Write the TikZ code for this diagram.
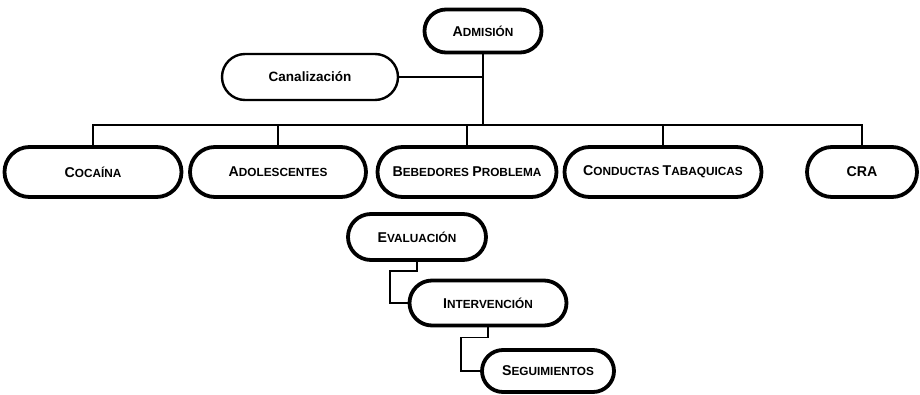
\documentclass[tikz,border=0pt]{standalone}
\usepackage{fontspec}
\setmainfont{Liberation Sans}
\usetikzlibrary{calc,shapes.misc}

% hand-made small capitals: large initial, smaller remaining capitals
\newcommand\capbig[1]{{\fontsize{14.2}{15}\selectfont #1}}
\newcommand\smcap[2]{\capbig{#1}{\fontsize{11.8}{13}\selectfont #2}}

\tikzset{
  pill/.style={draw, line width=3.8pt, rounded rectangle, rounded rectangle arc length=180,
    fill=white, inner sep=0pt, align=center, font=\bfseries\fontsize{11.8}{13}\selectfont},
  pillthin/.style={pill, line width=2.4pt},
  link/.style={draw, line width=1.4pt},
}

\begin{document}
\begin{tikzpicture}[x=1pt, y=-1pt]
\useasboundingbox[fill=white] (0,0) rectangle (920,394);

% top of the tree
\node[pill, minimum width=117pt, minimum height=43pt] (adm) at (483,31) {\smcap{A}{DMISIÓN}};
\node[pillthin, minimum width=176pt, minimum height=46pt, font=\bfseries\fontsize{13.5}{15}\selectfont] (can) at (310,77) {Canalización};

% programme row
\node[pill, minimum width=177pt, minimum height=50pt] (coc) at (93,172) {\smcap{C}{OCAÍNA}};
\node[pill, minimum width=176pt, minimum height=50pt] (ado) at (278,172) {\smcap{A}{DOLESCENTES}};
\node[pill, minimum width=179pt, minimum height=50pt] (beb) at (467,172) {\smcap{B}{EBEDORES} \smcap{P}{ROBLEMA}};
\node[pill, minimum width=197pt, minimum height=50pt] (con) at (663,172) {\smcap{C}{ONDUCTAS} \smcap{T}{ABAQUICAS}};
\node[pill, minimum width=110pt, minimum height=50pt] (cra) at (862,172) {\capbig{CRA}};

% treatment stages
\node[pill, minimum width=138pt, minimum height=46pt] (eva) at (417,237) {\smcap{E}{VALUACIÓN}};
\node[pill, minimum width=157pt, minimum height=45pt] (int) at (488,303) {\smcap{I}{NTERVENCIÓN}};
\node[pill, minimum width=132pt, minimum height=42pt] (seg) at (548,371) {\smcap{S}{EGUIMIENTOS}};

% bus joining the programmes
\coordinate (bus) at (483,125);
\draw[link] (adm.south) -- (adm.south |- bus);
\draw[link] (can.east) -- (can.east -| adm.south);
\draw[link] (coc.north) -- (coc.north |- bus) -- (cra.north |- bus) -- (cra.north);
\draw[link] (ado.north) -- (ado.north |- bus);
\draw[link] (beb.north) -- (beb.north |- bus);
\draw[link] (con.north) -- (con.north |- bus);

% stepped links between the stages
\draw[link] (eva.south) -- ++(0,9) -- ++(-27,0) |- (int.west);
\draw[link] (int.south) -- ++(0,10) -- ++(-27,0) |- (seg.west);
\end{tikzpicture}
\end{document}
